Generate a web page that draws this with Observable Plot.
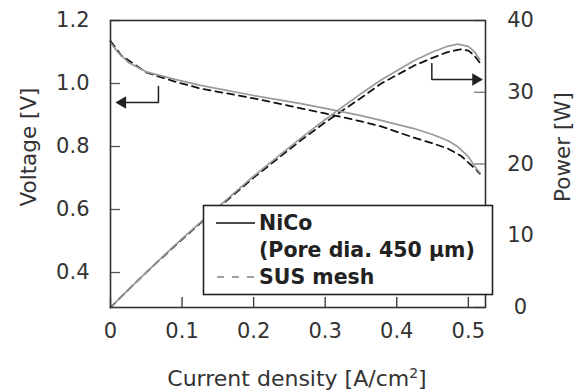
<!DOCTYPE html>
<html><head><meta charset="utf-8">
<script src="https://cdn.jsdelivr.net/npm/d3@7"></script>
<script src="https://cdn.jsdelivr.net/npm/@observablehq/plot@0.6"></script>
<style>body{margin:0;background:#fff;} #chart{position:relative;width:575px;height:390px;}</style>
</head><body><div id="chart"></div>
<script>
// Current density [A/cm2] grid and values
const jNiCo = [0, 0.01, 0.025, 0.05, 0.07, 0.09, 0.126, 0.2, 0.266, 0.3, 0.35, 0.378, 0.424, 0.45, 0.471, 0.485, 0.5, 0.508, 0.516];
const vNiCo = [1.13, 1.10, 1.067, 1.037, 1.025, 1.013, 0.994, 0.962, 0.936, 0.921, 0.898, 0.883, 0.857, 0.838, 0.819, 0.800, 0.768, 0.740, 0.717];
const pNiCo = [0, 1.0, 2.5, 4.9, 6.8, 8.7, 11.9, 18.3, 23.6, 26.2, 29.8, 31.7, 34.4, 35.6, 36.4, 36.7, 36.4, 35.7, 34.6];
const jSUS = [0, 0.015, 0.05, 0.09, 0.126, 0.2, 0.266, 0.3, 0.35, 0.378, 0.424, 0.45, 0.471, 0.49, 0.5, 0.508, 0.516];
const vSUS = [1.135, 1.089, 1.035, 1.006, 0.984, 0.953, 0.921, 0.905, 0.880, 0.864, 0.828, 0.810, 0.794, 0.770, 0.749, 0.733, 0.714];
const pSUS = [0, 1.5, 4.9, 8.6, 11.8, 18.1, 23.3, 25.8, 29.2, 31.2, 33.7, 34.8, 35.6, 36.0, 35.8, 35.2, 34.1];

const xTicks = [0, 0.1, 0.2, 0.3, 0.4, 0.5];
const vTicks = [0.4, 0.6, 0.8, 1.0, 1.2];
const pTicks = [0, 10, 20, 30, 40];
const legendLabels = ["NiCo", "(Pore dia. 450 µm)", "SUS mesh"];

// annotation arrows (data units)
const arrowLeftJ = [0.067, 0.067, 0.0168];
const arrowLeftV = [0.9905, 0.9397, 0.9397];
const arrowRightJ = [0.449, 0.449, 0.5105];
const arrowRightV = [1.0635, 1.0127, 1.0127];

const vMin = 0.289, vMax = 1.2, pMax = 40;
const toV = p => vMin + p * (vMax - vMin) / pMax;

const nico = jNiCo.map((j, i) => ({j, v: vNiCo[i], p: pNiCo[i]}));
const sus = jSUS.map((j, i) => ({j, v: vSUS[i], p: pSUS[i]}));
const arrL = arrowLeftJ.map((j, i) => ({j, v: arrowLeftV[i]}));
const arrR = arrowRightJ.map((j, i) => ({j, v: arrowRightV[i]}));

const W = 575, H = 390;
const font = "DejaVu Sans, Verdana, sans-serif";
const plot = Plot.plot({
  width: W, height: H,
  marginLeft: 110, marginRight: 90, marginTop: 20, marginBottom: 83,
  style: {fontFamily: font, fontSize: "21px", color: "#333", background: "#fff"},
  x: {domain: [0, 0.524], axis: null},
  y: {domain: [vMin, vMax], axis: null},
  marks: [
    Plot.line(sus, {x: "j", y: "v", stroke: "#111", strokeWidth: 1.8, strokeDasharray: "7,5"}),
    Plot.line(sus, {x: "j", y: d => toV(d.p), stroke: "#111", strokeWidth: 1.8, strokeDasharray: "7,5"}),
    Plot.line(nico, {x: "j", y: "v", stroke: "#9a9a9a", strokeWidth: 1.7}),
    Plot.line(nico, {x: "j", y: d => toV(d.p), stroke: "#9a9a9a", strokeWidth: 1.7}),
    // arrows
    Plot.line(arrL, {x: "j", y: "v", stroke: "#222", strokeWidth: 1.5}),
    Plot.dot([arrL[2]], {x: "j", y: "v", symbol: "triangle", r: 4.6, fill: "#222", stroke: "none", rotate: -90}),
    Plot.line(arrR, {x: "j", y: "v", stroke: "#222", strokeWidth: 1.5}),
    Plot.dot([arrR[2]], {x: "j", y: "v", symbol: "triangle", r: 4.6, fill: "#222", stroke: "none", rotate: 90}),
    // inward ticks
    Plot.tickX(xTicks, {x: d => d, insetTop: 277, stroke: "#333", strokeWidth: 1.3}),
    Plot.tickY(vTicks, {y: d => d, insetRight: 365, stroke: "#555", strokeWidth: 1.3}),
    Plot.tickY(pTicks, {y: d => toV(d), insetLeft: 364, stroke: "#777", strokeWidth: 1.3}),
    // tick labels
    Plot.text(xTicks, {x: d => d, text: d => d === 0 ? "0" : d.toFixed(1), frameAnchor: "bottom", dy: 30, fill: "#333", fontSize: 21}),
    Plot.text(vTicks, {y: d => d, text: d => d.toFixed(1), frameAnchor: "left", dx: -21, textAnchor: "end", fill: "#333", fontSize: 21}),
    Plot.text(pTicks, {y: d => toV(d), text: d => String(d), frameAnchor: "right", dx: 35, textAnchor: "middle", fill: "#333", fontSize: 21}),
    Plot.frame({stroke: "#333", strokeWidth: 1.6})
  ]
});
document.getElementById("chart").appendChild(plot);

// axis titles & legend
const svg = d3.select(plot);
svg.append("text").attr("transform", "translate(28,147) rotate(-90)")
  .attr("text-anchor", "middle").attr("dominant-baseline", "central")
  .attr("fill", "#333").style("font-size", "21.5px").style("font-family", font).text("Voltage [V]");
svg.append("text").attr("transform", "translate(562,147) rotate(-90)")
  .attr("text-anchor", "middle").attr("dominant-baseline", "central")
  .attr("fill", "#333").style("font-size", "21.5px").style("font-family", font).text("Power [W]");
const xt = svg.append("text").attr("x", 297).attr("y", 386).attr("text-anchor", "middle")
  .attr("fill", "#333").style("font-size", "22px").style("font-family", font);
xt.append("tspan").text("Current density [A/cm");
xt.append("tspan").attr("dy", -8).style("font-size", "14px").text("2");
xt.append("tspan").attr("dy", 8).text("]");

const lg = svg.append("g");
lg.append("rect").attr("x", 203.5).attr("y", 205.5).attr("width", 289).attr("height", 89)
  .attr("fill", "#fff").attr("stroke", "#222").attr("stroke-width", 1.6);
lg.append("line").attr("x1", 216).attr("x2", 255).attr("y1", 223).attr("y2", 223).attr("stroke", "#111").attr("stroke-width", 1.6);
lg.append("line").attr("x1", 217).attr("x2", 254).attr("y1", 277).attr("y2", 277).attr("stroke", "#a0a0a0").attr("stroke-width", 2).attr("stroke-dasharray", "7,8");
[223, 250, 277].forEach((y, i) => {
  lg.append("text").attr("x", 259).attr("y", y).attr("dominant-baseline", "central").attr("text-anchor", "start")
    .attr("fill", "#222").style("font-weight", "bold").style("font-size", "20.5px").style("font-family", font)
    .text(legendLabels[i]);
});
</script></body></html>
